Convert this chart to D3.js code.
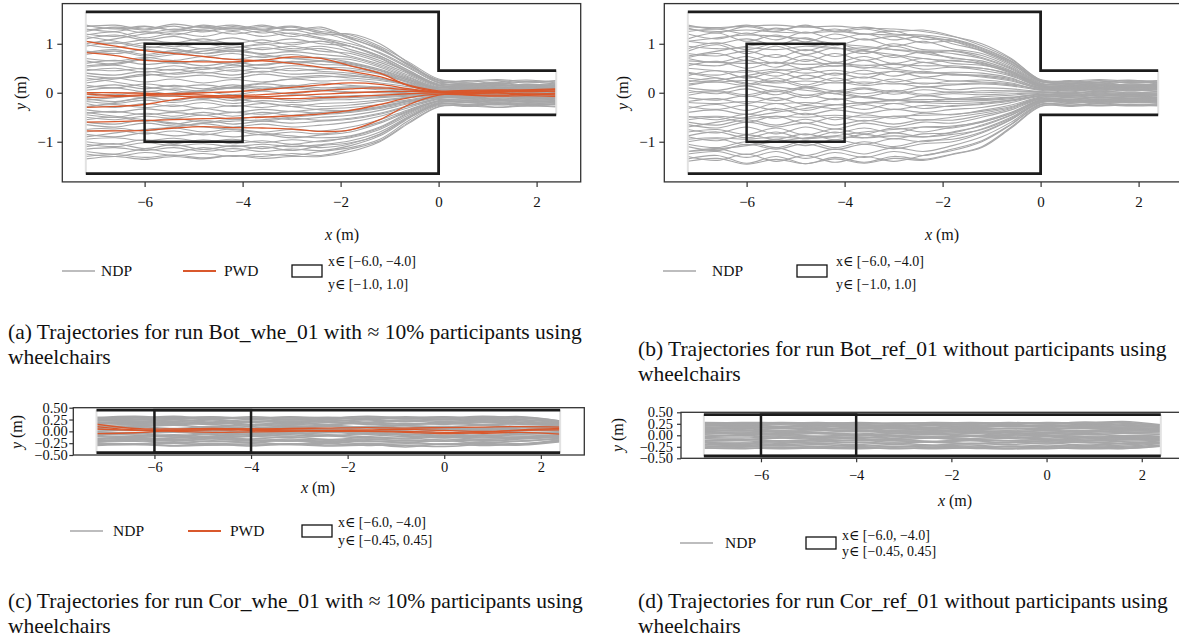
<!DOCTYPE html>
<html><head><meta charset="utf-8">
<script src="https://cdn.jsdelivr.net/npm/d3@7"></script>
<style>
body{margin:0;background:#fff;overflow:hidden;}
svg{display:block;font-family:"Liberation Serif","DejaVu Serif",serif;}
</style></head><body>
<svg id="chart" width="1179" height="640"></svg>
<script>
// ---------------- DATA ----------------
const xLimits = [-7.68, 2.9];
const xTickValues = [-6, -4, -2, 0, 2];
const yTicksBot = [-1, 0, 1];
const yTicksCor = [-0.5, -0.25, 0, 0.25, 0.5];
const yLimitsBot = [-1.82, 1.82];
const yLimitsCor = [-0.5, 0.5];

// geometry (m)
const corridorStart = -7.2, corridorEnd = 2.4;
const botWallOuter = 1.65, botWallInner = 0.45, botStep = 0;
const corWall = 0.45;
const rectBot = {x0: -6, x1: -4, y0: -1.0, y1: 1.0};
const rectCor = {x0: -6, x1: -4, y0: -0.45, y1: 0.45};

// x sample positions of the trajectories
const xGridWide = [-7.2,-6.6,-6.0,-5.4,-4.8,-4.2,-3.6,-3.0,-2.4,-1.8,-1.2,-0.6,0,0.6,1.2,1.8,2.4];
const xGridCorr = [-7.2,-6.4,-5.6,-4.8,-4.0,-3.2,-2.4,-1.6,-0.8,0,0.8,1.6,2.4];

// (a) Bot_whe_01 — non-disabled participants
const botWheNDP = [
[1.35,1.38,1.30,1.40,1.33,1.38,1.30,1.36,1.25,1.18,0.95,0.62,0.28,0.22,0.25,0.20,0.24],
[1.30,1.25,1.35,1.28,1.36,1.27,1.35,1.28,1.30,1.10,0.90,0.55,0.25,0.18,0.22,0.26,0.20],
[1.28,1.32,1.22,1.30,1.24,1.32,1.22,1.28,1.18,1.20,1.00,0.60,0.22,0.25,0.18,0.22,0.18],
[1.20,1.15,1.25,1.18,1.28,1.20,1.26,1.15,1.22,1.05,0.80,0.50,0.20,0.15,0.20,0.14,0.18],
[1.10,1.18,1.08,1.15,1.05,1.12,1.02,1.10,1.00,0.95,0.75,0.45,0.18,0.20,0.12,0.17,0.14],
[1.05,1.00,1.08,1.02,1.10,1.00,1.08,0.98,1.05,0.88,0.70,0.40,0.15,0.10,0.15,0.12,0.16],
[0.95,1.02,0.92,0.98,0.90,0.96,0.88,0.95,0.85,0.80,0.62,0.38,0.14,0.16,0.10,0.14,0.10],
[0.85,0.80,0.88,0.82,0.90,0.84,0.92,0.86,0.90,0.75,0.58,0.35,0.12,0.08,0.12,0.10,0.13],
[0.78,0.85,0.75,0.82,0.74,0.80,0.72,0.78,0.70,0.68,0.52,0.30,0.10,0.12,0.08,0.12,0.08],
[0.70,0.65,0.72,0.66,0.74,0.68,0.75,0.70,0.72,0.62,0.48,0.28,0.08,0.05,0.10,0.07,0.10],
[0.60,0.66,0.58,0.62,0.55,0.62,0.56,0.64,0.58,0.55,0.42,0.25,0.06,0.09,0.05,0.08,0.05],
[0.48,0.45,0.50,0.46,0.52,0.44,0.50,0.45,0.48,0.46,0.38,0.20,0.05,0.03,0.07,0.04,0.06],
[0.45,0.50,0.42,0.48,0.40,0.47,0.42,0.50,0.44,0.40,0.30,0.18,0.04,0.06,0.02,0.05,0.03],
[0.35,0.30,0.38,0.32,0.36,0.30,0.38,0.32,0.35,0.30,0.25,0.15,0.03,0.01,0.04,0.02,0.03],
[0.25,0.30,0.22,0.28,0.20,0.27,0.22,0.28,0.24,0.26,0.20,0.12,0.02,0.04,0.00,0.02,0.00],
[0.15,0.10,0.18,0.12,0.16,0.10,0.18,0.14,0.20,0.15,0.12,0.08,0.00,-0.02,0.02,-0.01,0.01],
[0.05,0.10,0.02,0.08,0.03,0.10,0.05,0.12,0.06,0.10,0.06,0.03,-0.01,0.01,-0.03,0.00,-0.02],
[0.00,-0.05,0.03,-0.03,0.02,-0.04,0.03,-0.02,0.04,0.00,0.02,0.00,-0.02,-0.04,-0.01,-0.03,-0.01],
[-0.08,-0.03,-0.10,-0.05,-0.12,-0.06,-0.10,-0.04,-0.08,-0.06,-0.05,-0.04,-0.03,-0.01,-0.04,-0.02,-0.04],
[-0.18,-0.22,-0.15,-0.20,-0.14,-0.22,-0.16,-0.20,-0.15,-0.14,-0.10,-0.07,-0.04,-0.06,-0.03,-0.05,-0.02],
[-0.28,-0.24,-0.30,-0.25,-0.32,-0.26,-0.30,-0.24,-0.28,-0.25,-0.18,-0.10,-0.05,-0.03,-0.06,-0.04,-0.06],
[-0.35,-0.40,-0.33,-0.38,-0.32,-0.40,-0.34,-0.38,-0.33,-0.30,-0.24,-0.14,-0.06,-0.08,-0.05,-0.08,-0.05],
[-0.42,-0.38,-0.45,-0.40,-0.46,-0.40,-0.44,-0.38,-0.42,-0.38,-0.30,-0.18,-0.08,-0.05,-0.09,-0.06,-0.08],
[-0.50,-0.55,-0.48,-0.52,-0.46,-0.54,-0.48,-0.55,-0.50,-0.46,-0.36,-0.22,-0.10,-0.12,-0.08,-0.11,-0.09],
[-0.55,-0.50,-0.58,-0.52,-0.60,-0.54,-0.58,-0.52,-0.56,-0.52,-0.42,-0.26,-0.12,-0.09,-0.13,-0.10,-0.12],
[-0.65,-0.70,-0.62,-0.68,-0.63,-0.70,-0.64,-0.70,-0.66,-0.60,-0.48,-0.30,-0.14,-0.16,-0.12,-0.15,-0.13],
[-0.75,-0.72,-0.78,-0.72,-0.80,-0.74,-0.80,-0.75,-0.78,-0.70,-0.55,-0.34,-0.16,-0.13,-0.17,-0.14,-0.16],
[-0.85,-0.90,-0.82,-0.88,-0.84,-0.90,-0.85,-0.92,-0.86,-0.80,-0.62,-0.38,-0.18,-0.20,-0.16,-0.19,-0.17],
[-0.95,-0.92,-0.98,-0.93,-1.00,-0.95,-1.02,-0.96,-1.00,-0.90,-0.72,-0.42,-0.20,-0.17,-0.21,-0.18,-0.21],
[-1.05,-1.10,-1.02,-1.08,-1.04,-1.10,-1.05,-1.10,-1.06,-0.98,-0.80,-0.48,-0.22,-0.24,-0.20,-0.23,-0.20],
[-1.15,-1.12,-1.18,-1.12,-1.20,-1.14,-1.20,-1.15,-1.18,-1.08,-0.88,-0.52,-0.24,-0.21,-0.25,-0.22,-0.25],
[-1.25,-1.30,-1.22,-1.28,-1.24,-1.30,-1.25,-1.28,-1.20,-1.12,-0.95,-0.56,-0.26,-0.28,-0.24,-0.27,-0.24],
[-1.30,-1.26,-1.32,-1.27,-1.33,-1.28,-1.30,-1.24,-1.28,-1.15,-0.98,-0.60,-0.28,-0.25,-0.29,-0.26,-0.28],
[-1.20,-1.25,-1.15,-1.22,-1.12,-1.20,-1.10,-1.18,-1.08,-1.02,-0.85,-0.50,-0.23,-0.26,-0.22,-0.25,-0.22],
[1.15,1.05,0.95,0.90,0.80,0.85,0.78,0.70,0.65,0.55,0.40,0.22,0.10,0.12,0.09,0.11,0.08],
[-0.90,-0.82,-0.75,-0.70,-0.62,-0.58,-0.55,-0.50,-0.45,-0.40,-0.32,-0.20,-0.09,-0.11,-0.07,-0.10,-0.07],
[0.55,0.60,0.70,0.78,0.85,0.92,0.98,1.02,1.05,0.95,0.75,0.45,0.16,0.14,0.17,0.13,0.16],
[-0.40,-0.48,-0.55,-0.62,-0.70,-0.75,-0.82,-0.88,-0.92,-0.88,-0.70,-0.40,-0.18,-0.15,-0.19,-0.16,-0.18],
[0.20,0.28,0.35,0.40,0.48,0.52,0.58,0.62,0.65,0.60,0.45,0.25,0.07,0.09,0.06,0.08,0.05],
[-0.15,-0.10,-0.05,0.00,0.05,0.10,0.12,0.08,0.05,0.02,0.00,-0.02,-0.03,0.00,-0.02,0.01,-0.01],
[1.38,1.30,1.36,1.28,1.38,1.30,1.38,1.28,1.34,1.12,0.88,0.58,0.26,0.24,0.27,0.23,0.25],
[1.25,1.34,1.28,1.36,1.26,1.35,1.28,1.34,1.22,1.14,0.92,0.56,0.24,0.20,0.19,0.24,0.22],
[1.18,1.24,1.12,1.22,1.15,1.25,1.15,1.22,1.12,1.00,0.82,0.52,0.21,0.17,0.21,0.16,0.20],
[0.98,0.92,1.02,0.94,1.00,0.92,1.00,0.90,0.95,0.84,0.66,0.42,0.16,0.13,0.17,0.13,0.15],
[0.82,0.88,0.78,0.86,0.80,0.88,0.80,0.84,0.78,0.72,0.55,0.32,0.11,0.14,0.09,0.11,0.09],
[0.65,0.58,0.68,0.60,0.66,0.58,0.68,0.60,0.64,0.58,0.46,0.27,0.07,0.10,0.06,0.09,0.07],
[0.52,0.56,0.48,0.55,0.48,0.56,0.50,0.55,0.52,0.50,0.40,0.22,0.05,0.07,0.03,0.06,0.04],
[0.40,0.36,0.44,0.38,0.42,0.36,0.44,0.38,0.40,0.36,0.28,0.16,0.04,0.02,0.05,0.02,0.04],
[0.10,0.16,0.08,0.15,0.08,0.16,0.08,0.15,0.10,0.12,0.09,0.05,0.01,0.03,-0.01,0.02,0.00],
[-0.12,-0.18,-0.10,-0.16,-0.08,-0.16,-0.10,-0.16,-0.12,-0.10,-0.08,-0.05,-0.02,-0.04,-0.01,-0.03,-0.02],
[-0.22,-0.30,-0.22,-0.28,-0.20,-0.28,-0.22,-0.28,-0.22,-0.20,-0.15,-0.09,-0.04,-0.02,-0.05,-0.03,-0.04],
[-0.45,-0.50,-0.42,-0.48,-0.40,-0.48,-0.40,-0.46,-0.40,-0.36,-0.28,-0.16,-0.07,-0.09,-0.06,-0.08,-0.06],
[-0.60,-0.64,-0.56,-0.64,-0.56,-0.64,-0.58,-0.62,-0.58,-0.54,-0.44,-0.27,-0.12,-0.10,-0.14,-0.11,-0.13],
[-0.80,-0.76,-0.84,-0.78,-0.86,-0.78,-0.86,-0.80,-0.84,-0.76,-0.60,-0.36,-0.17,-0.19,-0.15,-0.18,-0.16],
[-1.00,-1.05,-0.96,-1.04,-0.96,-1.04,-0.98,-1.05,-0.98,-0.92,-0.75,-0.45,-0.21,-0.19,-0.22,-0.20,-0.21],
[-1.10,-1.04,-1.14,-1.06,-1.16,-1.08,-1.14,-1.06,-1.12,-1.04,-0.84,-0.50,-0.23,-0.25,-0.22,-0.24,-0.23],
[-1.35,-1.30,-1.36,-1.30,-1.35,-1.28,-1.34,-1.30,-1.30,-1.20,-1.00,-0.62,-0.29,-0.27,-0.30,-0.27,-0.29],
[1.00,1.10,1.20,1.25,1.30,1.32,1.28,1.20,1.10,0.95,0.72,0.42,0.15,0.17,0.14,0.16,0.14],
[-0.30,-0.20,-0.10,-0.05,0.05,0.12,0.20,0.28,0.32,0.34,0.28,0.16,0.05,0.03,0.06,0.04,0.05],
[0.30,0.22,0.12,0.05,-0.05,-0.12,-0.20,-0.28,-0.35,-0.36,-0.30,-0.17,-0.06,-0.08,-0.05,-0.07,-0.06]
];
// (a) Bot_whe_01 — participants using wheelchairs
const botWhePWD = [
[1.05,0.95,0.86,0.80,0.74,0.68,0.65,0.60,0.52,0.44,0.33,0.15,0.04,0.05,0.06,0.05,0.07],
[0.82,0.76,0.66,0.64,0.63,0.63,0.66,0.73,0.70,0.55,0.40,0.14,0.02,0.00,0.03,0.02,0.04],
[-0.03,-0.06,-0.04,-0.02,0.00,0.02,0.06,0.11,0.16,0.20,0.17,0.08,0.01,-0.02,0.00,-0.03,-0.02],
[-0.10,-0.08,-0.06,-0.07,-0.09,-0.10,-0.11,-0.12,-0.10,-0.08,-0.05,-0.02,0.00,-0.04,-0.05,-0.03,-0.05],
[-0.30,-0.28,-0.24,-0.14,-0.08,-0.06,-0.04,0.00,0.04,0.08,0.10,0.06,0.02,0.04,0.02,0.05,0.03],
[-0.60,-0.59,-0.57,-0.55,-0.53,-0.52,-0.50,-0.47,-0.43,-0.36,-0.24,-0.10,-0.03,-0.05,-0.07,-0.06,-0.08],
[-0.78,-0.78,-0.77,-0.72,-0.69,-0.71,-0.72,-0.74,-0.79,-0.76,-0.55,-0.24,-0.05,-0.02,0.00,-0.03,-0.01],
[0.00,0.00,-0.01,-0.03,-0.05,-0.07,-0.08,-0.06,-0.03,0.00,0.02,0.03,0.02,0.03,0.05,0.06,0.08]
];
// (b) Bot_ref_01 — non-disabled participants
const botRefNDP = [
[1.35,1.33,1.36,1.38,1.34,1.36,1.32,1.30,1.25,1.15,1.00,0.70,0.26,0.22,0.25,0.21,0.24],
[1.32,1.22,1.35,1.25,1.38,1.24,1.30,1.20,1.18,1.10,0.92,0.65,0.24,0.18,0.22,0.26,0.20],
[1.10,1.22,1.05,1.18,1.04,1.20,1.08,1.15,1.02,1.05,0.88,0.60,0.22,0.25,0.17,0.22,0.18],
[1.05,1.00,1.10,0.98,1.12,0.96,1.10,0.95,1.05,0.90,0.80,0.55,0.20,0.15,0.20,0.14,0.19],
[0.85,0.98,0.80,0.95,0.78,0.92,0.80,0.95,0.82,0.85,0.72,0.50,0.18,0.20,0.12,0.18,0.14],
[0.80,0.75,0.85,0.72,0.88,0.74,0.86,0.72,0.84,0.70,0.65,0.45,0.16,0.11,0.16,0.12,0.16],
[0.72,0.80,0.66,0.78,0.64,0.80,0.66,0.76,0.62,0.66,0.58,0.40,0.14,0.16,0.10,0.14,0.11],
[0.60,0.55,0.66,0.52,0.68,0.54,0.66,0.50,0.62,0.52,0.50,0.36,0.12,0.08,0.12,0.09,0.13],
[0.50,0.45,0.42,0.48,0.40,0.46,0.38,0.44,0.40,0.42,0.40,0.30,0.10,0.12,0.08,0.12,0.08],
[0.35,0.45,0.30,0.42,0.28,0.40,0.30,0.44,0.32,0.38,0.34,0.26,0.08,0.05,0.10,0.06,0.10],
[0.30,0.25,0.34,0.22,0.36,0.24,0.32,0.22,0.30,0.24,0.26,0.20,0.06,0.09,0.04,0.08,0.05],
[0.18,0.22,0.15,0.25,0.12,0.22,0.15,0.20,0.12,0.16,0.18,0.14,0.05,0.02,0.07,0.03,0.06],
[0.10,0.05,0.14,0.02,0.12,0.04,0.10,0.02,0.12,0.06,0.10,0.08,0.03,0.06,0.01,0.05,0.02],
[0.00,0.04,-0.04,0.06,-0.05,0.03,-0.02,0.05,-0.03,0.02,0.00,0.02,0.01,-0.02,0.03,0.00,0.02],
[-0.10,-0.15,-0.06,-0.16,-0.05,-0.14,-0.08,-0.16,-0.06,-0.12,-0.08,-0.05,-0.01,0.01,-0.03,-0.01,-0.02],
[-0.18,-0.12,-0.22,-0.10,-0.24,-0.12,-0.22,-0.14,-0.20,-0.12,-0.14,-0.10,-0.03,-0.05,-0.01,-0.04,-0.02],
[-0.28,-0.34,-0.25,-0.36,-0.26,-0.32,-0.24,-0.34,-0.26,-0.28,-0.22,-0.15,-0.05,-0.02,-0.06,-0.03,-0.05],
[-0.40,-0.35,-0.44,-0.32,-0.45,-0.35,-0.42,-0.34,-0.40,-0.34,-0.30,-0.20,-0.07,-0.09,-0.05,-0.08,-0.06],
[-0.48,-0.55,-0.44,-0.52,-0.42,-0.55,-0.45,-0.52,-0.42,-0.45,-0.36,-0.25,-0.09,-0.06,-0.10,-0.07,-0.09],
[-0.55,-0.50,-0.60,-0.48,-0.62,-0.50,-0.58,-0.48,-0.56,-0.50,-0.42,-0.30,-0.11,-0.13,-0.09,-0.12,-0.10],
[-0.65,-0.72,-0.60,-0.70,-0.62,-0.74,-0.62,-0.70,-0.60,-0.62,-0.50,-0.35,-0.13,-0.10,-0.14,-0.11,-0.13],
[-0.80,-0.75,-0.85,-0.72,-0.86,-0.74,-0.84,-0.72,-0.80,-0.70,-0.58,-0.40,-0.15,-0.17,-0.13,-0.16,-0.14],
[-0.90,-0.98,-0.86,-0.95,-0.84,-0.96,-0.85,-0.94,-0.84,-0.82,-0.66,-0.45,-0.17,-0.14,-0.18,-0.15,-0.17],
[-1.00,-0.94,-1.06,-0.95,-1.08,-0.96,-1.05,-0.94,-1.00,-0.90,-0.74,-0.50,-0.19,-0.21,-0.17,-0.20,-0.18],
[-1.10,-1.18,-1.05,-1.15,-1.04,-1.16,-1.05,-1.14,-1.04,-1.00,-0.82,-0.55,-0.21,-0.18,-0.22,-0.19,-0.21],
[-1.20,-1.14,-1.26,-1.12,-1.28,-1.15,-1.25,-1.12,-1.20,-1.08,-0.90,-0.60,-0.23,-0.25,-0.21,-0.24,-0.22],
[-1.30,-1.38,-1.25,-1.40,-1.28,-1.42,-1.30,-1.40,-1.28,-1.18,-1.00,-0.65,-0.25,-0.22,-0.26,-0.23,-0.25],
[-1.35,-1.28,-1.44,-1.30,-1.45,-1.32,-1.42,-1.30,-1.36,-1.25,-1.10,-0.70,-0.27,-0.28,-0.25,-0.27,-0.26],
[1.30,1.25,1.28,1.24,1.22,1.25,1.20,1.18,1.15,1.05,0.85,0.58,0.24,0.22,0.20,0.23,0.21],
[0.95,0.90,0.92,0.88,0.95,0.90,0.92,0.88,0.85,0.80,0.70,0.48,0.17,0.19,0.15,0.18,0.16],
[0.65,0.62,0.60,0.62,0.58,0.60,0.56,0.58,0.55,0.55,0.50,0.38,0.13,0.10,0.14,0.11,0.12],
[0.25,0.22,0.25,0.20,0.24,0.20,0.22,0.18,0.20,0.18,0.20,0.16,0.07,0.04,0.08,0.05,0.07],
[-0.20,-0.22,-0.18,-0.22,-0.20,-0.24,-0.20,-0.22,-0.18,-0.18,-0.16,-0.12,-0.04,-0.06,-0.03,-0.05,-0.04],
[-0.50,-0.48,-0.52,-0.48,-0.50,-0.46,-0.50,-0.48,-0.46,-0.44,-0.38,-0.28,-0.10,-0.08,-0.11,-0.09,-0.10],
[-0.95,-0.92,-0.95,-0.90,-0.94,-0.90,-0.92,-0.88,-0.90,-0.85,-0.75,-0.52,-0.19,-0.16,-0.20,-0.17,-0.19],
[1.05,1.12,1.18,1.15,1.10,1.00,0.95,0.88,0.80,0.72,0.62,0.42,0.15,0.13,0.16,0.12,0.15],
[-1.20,-1.15,-1.08,-1.00,-0.92,-0.88,-0.80,-0.75,-0.70,-0.68,-0.60,-0.42,-0.16,-0.18,-0.14,-0.17,-0.15],
[0.40,0.30,0.20,0.12,0.05,-0.02,-0.10,-0.15,-0.20,-0.22,-0.20,-0.15,-0.06,-0.04,-0.07,-0.05,-0.06],
[1.38,1.30,1.38,1.28,1.36,1.26,1.34,1.25,1.28,1.16,0.96,0.68,0.27,0.24,0.27,0.24,0.25],
[1.20,1.10,1.22,1.08,1.24,1.10,1.20,1.08,1.15,1.00,0.86,0.62,0.23,0.20,0.24,0.20,0.22],
[0.90,1.02,0.88,1.00,0.86,1.00,0.88,1.00,0.88,0.86,0.76,0.52,0.19,0.17,0.20,0.16,0.18],
[0.70,0.62,0.74,0.60,0.76,0.62,0.74,0.60,0.70,0.60,0.56,0.42,0.15,0.12,0.15,0.11,0.14],
[0.55,0.64,0.50,0.62,0.48,0.62,0.50,0.60,0.48,0.52,0.46,0.34,0.12,0.14,0.10,0.13,0.11],
[0.42,0.36,0.46,0.34,0.48,0.36,0.46,0.34,0.44,0.36,0.36,0.28,0.10,0.07,0.10,0.07,0.09],
[0.22,0.30,0.18,0.30,0.16,0.30,0.18,0.28,0.18,0.24,0.22,0.18,0.07,0.09,0.05,0.08,0.06],
[0.05,-0.02,0.08,-0.04,0.10,-0.02,0.08,-0.03,0.06,0.00,0.04,0.04,0.02,0.00,0.03,0.00,0.02],
[-0.05,0.02,-0.08,0.03,-0.10,0.02,-0.08,0.02,-0.06,-0.02,-0.04,-0.02,0.00,-0.02,0.01,-0.02,0.00],
[-0.32,-0.24,-0.36,-0.22,-0.36,-0.24,-0.34,-0.22,-0.32,-0.26,-0.24,-0.17,-0.06,-0.04,-0.07,-0.04,-0.06],
[-0.60,-0.66,-0.55,-0.66,-0.54,-0.66,-0.56,-0.64,-0.55,-0.56,-0.46,-0.32,-0.12,-0.14,-0.10,-0.13,-0.11],
[-0.75,-0.82,-0.70,-0.84,-0.70,-0.82,-0.72,-0.82,-0.70,-0.72,-0.60,-0.42,-0.15,-0.13,-0.16,-0.13,-0.15],
[-0.88,-0.80,-0.92,-0.80,-0.94,-0.80,-0.92,-0.82,-0.90,-0.80,-0.68,-0.46,-0.18,-0.20,-0.16,-0.19,-0.17],
[-1.05,-1.12,-1.00,-1.12,-0.98,-1.12,-1.00,-1.10,-0.98,-0.95,-0.80,-0.54,-0.20,-0.17,-0.21,-0.18,-0.20],
[-1.25,-1.20,-1.32,-1.20,-1.34,-1.22,-1.32,-1.20,-1.28,-1.15,-0.98,-0.64,-0.24,-0.26,-0.23,-0.26,-0.24],
[-1.40,-1.34,-1.46,-1.36,-1.45,-1.35,-1.44,-1.34,-1.38,-1.26,-1.12,-0.72,-0.28,-0.25,-0.27,-0.25,-0.27],
[1.25,1.30,1.20,1.32,1.22,1.30,1.20,1.26,1.10,1.08,0.90,0.64,0.25,0.23,0.21,0.25,0.22],
[0.75,0.85,0.95,1.00,0.98,0.92,0.85,0.78,0.70,0.65,0.60,0.44,0.16,0.15,0.17,0.14,0.16],
[-0.70,-0.60,-0.50,-0.40,-0.32,-0.25,-0.20,-0.16,-0.14,-0.14,-0.12,-0.09,-0.03,-0.05,-0.02,-0.04,-0.03],
[0.15,0.25,0.35,0.45,0.50,0.55,0.52,0.48,0.42,0.38,0.32,0.24,0.09,0.11,0.08,0.10,0.09]
];
// (c) Cor_whe_01 — non-disabled participants
const corWheNDP = [
[0.28,0.30,0.29,0.31,0.28,0.30,0.29,0.31,0.28,0.30,0.29,0.31,0.22],
[0.26,0.24,0.27,0.25,0.28,0.24,0.27,0.25,0.27,0.24,0.28,0.25,0.20],
[0.22,0.25,0.21,0.24,0.20,0.25,0.22,0.24,0.21,0.25,0.22,0.24,0.18],
[0.20,0.18,0.21,0.17,0.22,0.18,0.21,0.17,0.22,0.18,0.20,0.18,0.15],
[0.15,0.17,0.14,0.18,0.13,0.17,0.14,0.18,0.15,0.17,0.14,0.16,0.13],
[0.12,0.10,0.13,0.09,0.14,0.10,0.13,0.09,0.12,0.10,0.13,0.10,0.10],
[0.08,0.10,0.06,0.10,0.07,0.11,0.06,0.10,0.07,0.10,0.06,0.09,0.07],
[0.04,0.02,0.05,0.01,0.05,0.02,0.06,0.02,0.05,0.02,0.05,0.02,0.04],
[0.00,0.03,-0.01,0.02,-0.02,0.03,-0.01,0.02,-0.02,0.03,0.00,0.02,0.01],
[-0.03,-0.05,-0.02,-0.06,-0.03,-0.05,-0.02,-0.06,-0.03,-0.05,-0.02,-0.05,-0.02],
[-0.07,-0.05,-0.09,-0.05,-0.08,-0.04,-0.09,-0.05,-0.08,-0.05,-0.09,-0.06,-0.05],
[-0.11,-0.13,-0.10,-0.14,-0.11,-0.13,-0.10,-0.14,-0.11,-0.13,-0.10,-0.13,-0.08],
[-0.15,-0.13,-0.17,-0.13,-0.16,-0.12,-0.17,-0.13,-0.16,-0.12,-0.17,-0.13,-0.11],
[-0.19,-0.21,-0.18,-0.22,-0.19,-0.21,-0.18,-0.22,-0.19,-0.21,-0.18,-0.21,-0.14],
[-0.22,-0.20,-0.24,-0.20,-0.23,-0.19,-0.24,-0.20,-0.23,-0.20,-0.24,-0.20,-0.16],
[-0.26,-0.28,-0.25,-0.29,-0.26,-0.28,-0.25,-0.30,-0.26,-0.28,-0.25,-0.28,-0.19],
[-0.28,-0.26,-0.30,-0.27,-0.31,-0.26,-0.29,-0.27,-0.33,-0.26,-0.30,-0.27,-0.21],
[0.30,0.28,0.32,0.27,0.31,0.28,0.30,0.27,0.31,0.28,0.32,0.28,0.21],
[0.18,0.20,0.16,0.19,0.15,0.12,0.10,0.08,0.06,0.05,0.08,0.10,0.12],
[-0.15,-0.17,-0.14,-0.12,-0.10,-0.06,-0.03,0.00,0.03,0.05,0.02,-0.02,-0.05],
[0.10,0.12,0.15,0.18,0.20,0.22,0.19,0.16,0.12,0.08,0.05,0.04,0.03],
[-0.05,-0.08,-0.12,-0.15,-0.18,-0.20,-0.22,-0.18,-0.14,-0.10,-0.12,-0.15,-0.12],
[0.24,0.22,0.18,0.14,0.10,0.06,0.02,-0.02,-0.06,-0.10,-0.14,-0.12,-0.10],
[-0.22,-0.18,-0.14,-0.10,-0.05,0.00,0.05,0.10,0.14,0.18,0.22,0.20,0.16],
[0.29,0.32,0.28,0.30,0.27,0.31,0.28,0.32,0.29,0.31,0.27,0.30,0.22],
[0.23,0.21,0.24,0.20,0.25,0.21,0.24,0.20,0.24,0.21,0.25,0.22,0.17],
[0.17,0.14,0.18,0.15,0.19,0.14,0.18,0.15,0.17,0.15,0.18,0.15,0.12],
[0.06,0.08,0.04,0.08,0.05,0.08,0.04,0.07,0.05,0.08,0.04,0.07,0.05],
[-0.01,-0.03,0.01,-0.04,0.00,-0.03,0.01,-0.04,0.00,-0.03,0.01,-0.03,-0.01],
[-0.09,-0.11,-0.07,-0.11,-0.06,-0.10,-0.07,-0.11,-0.06,-0.10,-0.07,-0.10,-0.07],
[-0.17,-0.15,-0.19,-0.16,-0.20,-0.16,-0.19,-0.16,-0.20,-0.16,-0.19,-0.16,-0.12],
[-0.24,-0.26,-0.22,-0.26,-0.23,-0.27,-0.22,-0.26,-0.23,-0.27,-0.22,-0.26,-0.18],
[-0.30,-0.28,-0.31,-0.29,-0.29,-0.28,-0.31,-0.29,-0.30,-0.32,-0.28,-0.29,-0.22],
[0.26,0.28,0.25,0.29,0.26,0.28,0.25,0.29,0.26,0.28,0.24,0.28,0.20]
];
// (c) Cor_whe_01 — participants using wheelchairs
const corWhePWD = [
[0.15,0.06,0.05,0.06,0.05,0.06,0.07,0.08,0.07,0.08,0.09,0.10,0.09],
[0.10,0.03,0.02,0.03,0.02,0.01,0.00,0.00,-0.02,-0.05,-0.02,0.03,0.06],
[-0.05,-0.03,0.02,0.04,0.05,0.03,0.02,0.01,0.00,-0.02,-0.04,-0.02,-0.06],
[0.05,0.02,0.00,-0.02,-0.01,0.00,0.02,0.03,0.04,0.02,0.00,0.02,0.03]
];
// (d) Cor_ref_01 — non-disabled participants
const corRefNDP = [
[0.27,0.26,0.28,0.27,0.26,0.24,0.27,0.26,0.27,0.25,0.29,0.26,0.22],
[0.24,0.22,0.25,0.23,0.24,0.21,0.24,0.22,0.24,0.21,0.24,0.22,0.19],
[0.20,0.22,0.19,0.21,0.18,0.20,0.18,0.21,0.19,0.20,0.18,0.20,0.17],
[0.16,0.15,0.17,0.14,0.18,0.15,0.17,0.14,0.16,0.15,0.17,0.15,0.14],
[0.12,0.14,0.11,0.13,0.10,0.14,0.11,0.13,0.11,0.13,0.10,0.13,0.11],
[0.09,0.07,0.10,0.06,0.09,0.07,0.10,0.06,0.09,0.07,0.10,0.07,0.08],
[0.05,0.07,0.04,0.06,0.03,0.07,0.04,0.06,0.03,0.06,0.04,0.06,0.05],
[0.01,-0.01,0.02,-0.02,0.01,-0.01,0.02,-0.02,0.01,-0.01,0.02,-0.01,0.01],
[-0.03,-0.01,-0.04,-0.02,-0.05,-0.01,-0.04,-0.02,-0.05,-0.02,-0.04,-0.02,-0.03],
[-0.07,-0.09,-0.06,-0.09,-0.07,-0.10,-0.06,-0.09,-0.07,-0.09,-0.06,-0.09,-0.06],
[-0.11,-0.09,-0.12,-0.10,-0.12,-0.09,-0.13,-0.10,-0.12,-0.09,-0.12,-0.10,-0.09],
[-0.15,-0.17,-0.14,-0.17,-0.15,-0.17,-0.14,-0.18,-0.15,-0.17,-0.14,-0.17,-0.12],
[-0.19,-0.17,-0.20,-0.18,-0.20,-0.17,-0.21,-0.18,-0.20,-0.17,-0.21,-0.18,-0.15],
[-0.23,-0.25,-0.22,-0.24,-0.22,-0.25,-0.23,-0.26,-0.23,-0.25,-0.22,-0.24,-0.18],
[-0.26,-0.24,-0.27,-0.25,-0.28,-0.24,-0.27,-0.25,-0.28,-0.25,-0.27,-0.26,-0.21],
[-0.28,-0.27,-0.29,-0.27,-0.26,-0.29,-0.27,-0.28,-0.30,-0.27,-0.29,-0.28,-0.23],
[0.28,0.27,0.26,0.28,0.25,0.27,0.26,0.28,0.26,0.27,0.26,0.30,0.23],
[0.14,0.16,0.18,0.20,0.18,0.15,0.12,0.09,0.06,0.04,0.06,0.09,0.11],
[-0.12,-0.10,-0.06,-0.03,0.00,0.03,0.06,0.08,0.05,0.01,-0.03,-0.06,-0.08],
[0.06,0.03,0.00,-0.04,-0.08,-0.12,-0.15,-0.18,-0.16,-0.12,-0.08,-0.05,-0.03],
[-0.20,-0.22,-0.18,-0.14,-0.10,-0.07,-0.04,-0.02,0.02,0.06,0.10,0.14,0.12],
[0.22,0.20,0.16,0.12,0.08,0.10,0.13,0.17,0.20,0.22,0.19,0.16,0.14],
[-0.02,0.02,0.06,0.10,0.12,0.08,0.04,0.00,-0.04,-0.08,-0.10,-0.08,-0.05],
[0.18,0.12,0.08,0.04,0.02,-0.02,-0.06,-0.10,-0.12,-0.14,-0.16,-0.18,-0.15],
[0.26,0.28,0.27,0.25,0.28,0.26,0.28,0.27,0.25,0.28,0.27,0.28,0.21],
[0.22,0.19,0.23,0.20,0.22,0.19,0.22,0.19,0.22,0.19,0.22,0.20,0.18],
[0.18,0.17,0.15,0.17,0.14,0.17,0.15,0.18,0.14,0.17,0.14,0.17,0.15],
[0.10,0.11,0.08,0.12,0.08,0.11,0.08,0.11,0.08,0.11,0.08,0.11,0.09],
[0.03,0.04,0.01,0.04,0.00,0.04,0.01,0.04,0.00,0.04,0.01,0.04,0.02],
[-0.05,-0.06,-0.03,-0.07,-0.03,-0.06,-0.03,-0.07,-0.03,-0.06,-0.03,-0.06,-0.05],
[-0.13,-0.12,-0.15,-0.12,-0.16,-0.12,-0.15,-0.12,-0.16,-0.12,-0.15,-0.13,-0.11],
[-0.21,-0.20,-0.23,-0.20,-0.24,-0.20,-0.23,-0.21,-0.25,-0.21,-0.24,-0.21,-0.17],
[-0.27,-0.29,-0.26,-0.28,-0.29,-0.27,-0.29,-0.27,-0.28,-0.29,-0.26,-0.29,-0.24],
[0.25,0.23,0.26,0.23,0.27,0.24,0.26,0.23,0.28,0.24,0.26,0.24,0.20]
];

// texts
const legendNDP = "NDP", legendPWD = "PWD";
const rectLabelsBot = ["x\u2208 [\u22126.0, \u22124.0]", "y\u2208 [\u22121.0, 1.0]"];
const rectLabelsCor = ["x\u2208 [\u22126.0, \u22124.0]", "y\u2208 [\u22120.45, 0.45]"];
const captions = [
  ["(a) Trajectories for run Bot_whe_01 with \u2248 10% participants using", "wheelchairs"],
  ["(b) Trajectories for run Bot_ref_01 without participants using", "wheelchairs"],
  ["(c) Trajectories for run Cor_whe_01 with \u2248 10% participants using", "wheelchairs"],
  ["(d) Trajectories for run Cor_ref_01 without participants using", "wheelchairs"]
];

// ---------------- DRAWING ----------------
const svg = d3.select("#chart");
const FONT = "'Liberation Serif', 'DejaVu Serif', serif";
const GREY = "#a7a7a8", RED = "#d9582c", WALL = "#1c1c1c", SPINE = "#333", EDGE = "#e2e2e2";
const TICKFS = 15, LABFS = 16;

function drawPanel(c) {
  const g = svg.append("g");
  const x = d3.scaleLinear().domain(xLimits).range(c.xr);
  const y = d3.scaleLinear().domain(c.yd).range(c.yr);
  const line = d3.line().x((d, i) => x(c.xs[i])).y(d => y(d)).curve(d3.curveCatmullRom.alpha(0.5));

  g.append("g").selectAll("path").data(c.ndp).join("path")
    .attr("d", line).attr("fill", "none").attr("stroke", GREY).attr("stroke-width", c.lw);
  if (c.pwd) {
    g.append("g").selectAll("path").data(c.pwd).join("path")
      .attr("d", line).attr("fill", "none").attr("stroke", RED).attr("stroke-width", 1.3);
  }
  const outer = c.bottleneck ? botWallOuter : corWall;
  const inner = c.bottleneck ? botWallInner : corWall;
  g.append("line").attr("x1", x(corridorStart)).attr("x2", x(corridorStart))
    .attr("y1", y(-outer)).attr("y2", y(outer)).attr("stroke", EDGE).attr("stroke-width", 2);
  g.append("line").attr("x1", x(corridorEnd)).attr("x2", x(corridorEnd))
    .attr("y1", y(-inner)).attr("y2", y(inner)).attr("stroke", EDGE).attr("stroke-width", 2);
  const wl = d3.line().x(d => x(d[0])).y(d => y(d[1]));
  [1, -1].forEach(s => {
    const pts = c.bottleneck
      ? [[corridorStart, s * outer], [botStep, s * outer], [botStep, s * inner], [corridorEnd, s * inner]]
      : [[corridorStart, s * outer], [corridorEnd, s * outer]];
    g.append("path").attr("d", wl(pts)).attr("fill", "none").attr("stroke", WALL)
      .attr("stroke-width", 2.8).attr("stroke-linejoin", "miter");
  });
  const r = c.rect;
  g.append("rect").attr("x", x(r.x0)).attr("y", y(r.y1))
    .attr("width", x(r.x1) - x(r.x0)).attr("height", y(r.y0) - y(r.y1))
    .attr("fill", "none").attr("stroke", WALL).attr("stroke-width", 2.5);
  g.append("rect").attr("x", c.xr[0]).attr("y", c.yr[1])
    .attr("width", c.xr[1] - c.xr[0]).attr("height", c.yr[0] - c.yr[1])
    .attr("fill", "none").attr("stroke", SPINE).attr("stroke-width", 1.3);
  const xa = g.append("g").attr("transform", `translate(0,${c.yr[0]})`)
    .call(d3.axisBottom(x).tickValues(xTickValues).tickSize(c.xts).tickPadding(c.xpad).tickFormat(d3.format("d")));
  const ya = g.append("g").attr("transform", `translate(${c.xr[0]},0)`)
    .call(d3.axisLeft(y).tickValues(c.yticks).tickSize(c.yts).tickPadding(c.ypad).tickFormat(d3.format(c.yfmt)));
  [xa, ya].forEach(a => {
    a.attr("font-family", FONT).attr("font-size", c.tfs);
    a.select(".domain").remove();
    a.selectAll("line").attr("stroke", SPINE).attr("stroke-width", 1.2);
    a.selectAll("text").attr("fill", "#111");
  });
  const xl = g.append("text").attr("x", c.xlab[0]).attr("y", c.xlab[1]).attr("text-anchor", "middle")
    .attr("dy", "0.35em").style("font-size", LABFS + "px").attr("fill", "#111");
  xl.append("tspan").style("font-style", "italic").text("x");
  xl.append("tspan").text(" (m)");
  const yl = g.append("text").attr("transform", `translate(${c.ylab[0]},${c.ylab[1]}) rotate(-90)`)
    .attr("text-anchor", "middle").attr("dy", "0.35em").style("font-size", LABFS + "px").attr("fill", "#111");
  yl.append("tspan").style("font-style", "italic").text("y");
  yl.append("tspan").text(" (m)");
  const L = c.leg;
  const lg = g.append("g");
  lg.append("line").attr("x1", L.ndp[0]).attr("x2", L.ndp[0] + 33).attr("y1", L.y).attr("y2", L.y)
    .attr("stroke", GREY).attr("stroke-width", 1.6);
  lg.append("text").attr("x", L.ndp[1]).attr("y", L.y).attr("dy", "0.35em").style("font-size", "15.5px").attr("fill", "#111").text(legendNDP);
  if (L.pwd) {
    lg.append("line").attr("x1", L.pwd[0]).attr("x2", L.pwd[0] + 33).attr("y1", L.y).attr("y2", L.y)
      .attr("stroke", RED).attr("stroke-width", 1.8);
    lg.append("text").attr("x", L.pwd[1]).attr("y", L.y).attr("dy", "0.35em").style("font-size", "15.5px").attr("fill", "#111").text(legendPWD);
  }
  lg.append("rect").attr("x", L.box[0]).attr("y", L.y - 6).attr("width", 30).attr("height", 12)
    .attr("fill", "#fff").attr("stroke", "#111").attr("stroke-width", 1.3);
  c.rectLabels.forEach((t, i) => {
    lg.append("text").attr("x", L.box[1]).attr("y", L.ty[i]).attr("dy", "0.35em")
      .style("font-size", "14px").attr("fill", "#111").text(t);
  });
  c.caption.forEach((t, i) => {
    g.append("text").attr("x", c.cap[0]).attr("y", c.cap[1] + i * 25.5).attr("dy", "0.35em")
      .style("font-size", "21.5px").attr("fill", "#111").text(t);
  });
}

drawPanel({
  xs: xGridWide, ndp: botWheNDP, pwd: botWhePWD, bottleneck: true, rect: rectBot, lw: 1.1, tfs: TICKFS,
  xr: [62.3, 580.7], yd: yLimitsBot, yr: [181.9, 3.6], yticks: yTicksBot, yfmt: "d",
  xts: 5, xpad: 9, yts: 5, ypad: 4,
  xlab: [342, 234], ylab: [20, 93],
  leg: {y: 271, ndp: [62, 101], pwd: [183, 224], box: [292, 328], ty: [261, 284]},
  rectLabels: rectLabelsBot, caption: captions[0], cap: [8, 331]
});
drawPanel({
  xs: xGridWide, ndp: botRefNDP, pwd: null, bottleneck: true, rect: rectBot, lw: 1.1, tfs: TICKFS,
  xr: [664.3, 1182.7], yd: yLimitsBot, yr: [181.9, 3.6], yticks: yTicksBot, yfmt: "d",
  xts: 5, xpad: 9, yts: 5, ypad: 4,
  xlab: [942, 234], ylab: [622, 93],
  leg: {y: 271, ndp: [663, 712], pwd: null, box: [797, 836], ty: [261, 284]},
  rectLabels: rectLabelsBot, caption: captions[1], cap: [638, 348]
});
drawPanel({
  xs: xGridCorr, ndp: corWheNDP, pwd: corWhePWD, bottleneck: false, rect: rectCor, lw: 1.5, tfs: 14.5,
  xr: [73.3, 584.3], yd: yLimitsCor, yr: [455, 407.7], yticks: yTicksCor, yfmt: ".2f",
  xts: 4, xpad: 2.5, yts: 4, ypad: 1.5,
  xlab: [318, 487], ylab: [16, 432],
  leg: {y: 531, ndp: [70, 113], pwd: [188, 230], box: [302, 338], ty: [522, 540]},
  rectLabels: rectLabelsCor, caption: captions[2], cap: [8, 600]
});
drawPanel({
  xs: xGridCorr, ndp: corRefNDP, pwd: null, bottleneck: false, rect: rectCor, lw: 1.5, tfs: 14.5,
  xr: [681, 1184.6], yd: yLimitsCor, yr: [458.3, 412.3], yticks: yTicksCor, yfmt: ".2f",
  xts: 4, xpad: 7, yts: 4, ypad: 4,
  xlab: [955, 500], ylab: [617, 435],
  leg: {y: 543, ndp: [680, 725], pwd: null, box: [806, 842], ty: [535, 551]},
  rectLabels: rectLabelsCor, caption: captions[3], cap: [638, 600]
});
</script>
</body></html>
